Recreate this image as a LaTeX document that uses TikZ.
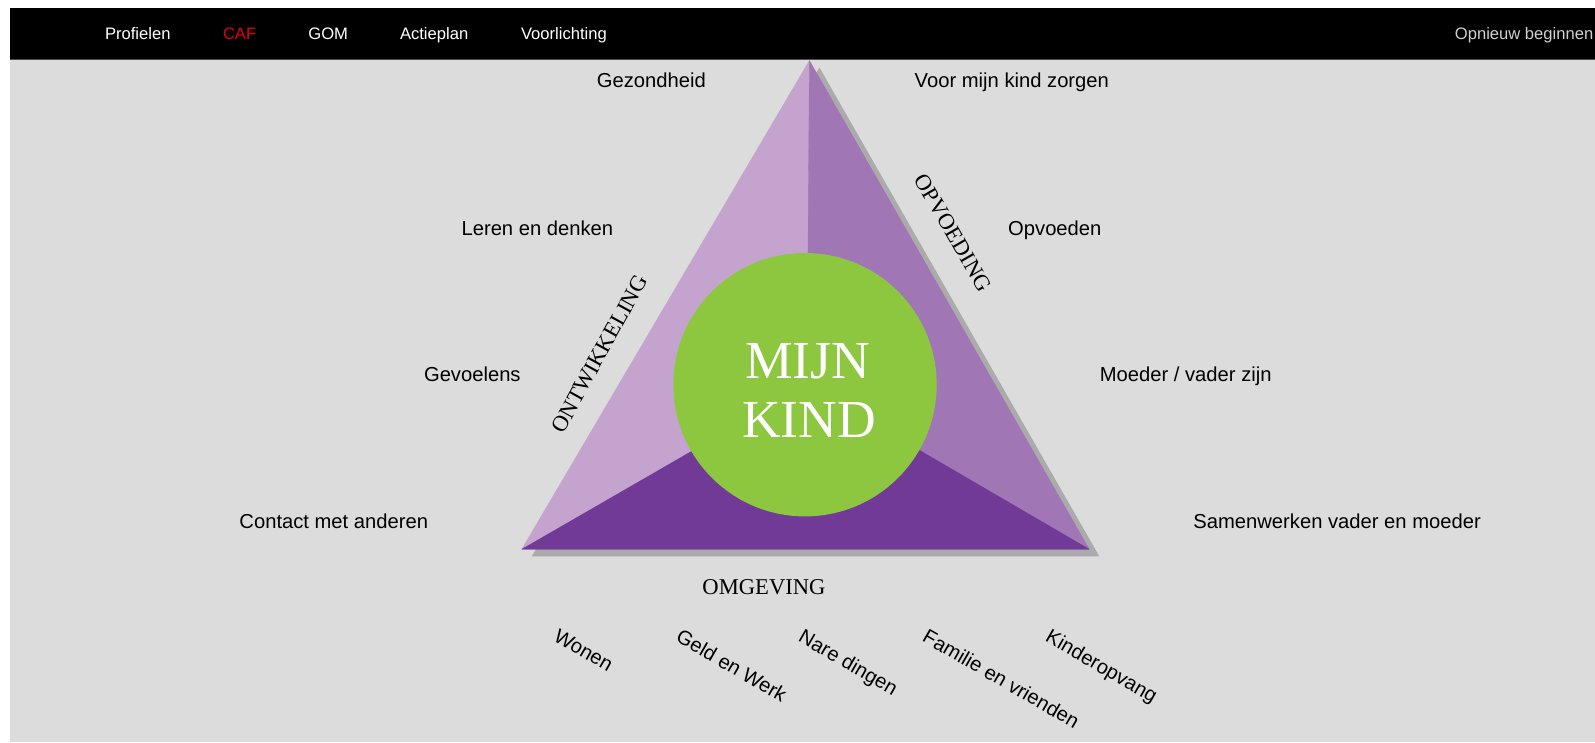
\documentclass[tikz,border=0pt]{standalone}
\usepackage{fontspec}
\setmainfont{Liberation Sans}
\newfontfamily\serifft{Liberation Serif}
\definecolor{bgc}{HTML}{DCDCDC}
\definecolor{shadowc}{HTML}{ABABAB}
\definecolor{faceL}{HTML}{C4A4CE}
\definecolor{faceR}{HTML}{A076B5}
\definecolor{faceB}{HTML}{703A96}
\definecolor{kidgreen}{HTML}{8DC63F}
\definecolor{navred}{HTML}{E80000}
\definecolor{navgray}{HTML}{D0D0D0}
\tikzset{
  lab/.style={font=\fontsize{20.2}{24}\selectfont, inner sep=0pt, text=black},
  navitem/.style={font=\fontsize{16.6}{20}\selectfont, inner sep=0pt, text=white, anchor=base west},
  captitle/.style={font=\serifft\fontsize{22.6}{26}\selectfont, inner sep=0pt, text=black},
  bottomlab/.style={lab, rotate=-30, anchor=north west},
  face/.style={fill=#1, draw=#1, line width=0.3pt, line join=round},
}
\begin{document}
\begin{tikzpicture}[x=1pt,y=-1pt]
\useasboundingbox (0,0) rectangle (1595,742);
\fill[white] (0,0) rectangle (1595,742);
\fill[bgc] (10,59) rectangle (1595,742);
\fill[black] (10,8) rectangle (1595,59);
\fill[black!70] (10,58.5) rectangle (1595,59.5);
% menu
\node[navitem] (m1) at (104.8,39.6) {Profielen};
\node[navitem, text=navred] (m2) at (222.8,39.6) {CAF};
\node[navitem] (m3) at (308.2,39.6) {GOM};
\node[navitem] (m4) at (399.8,39.6) {Actieplan};
\node[navitem] (m5) at (520.8,39.6) {Voorlichting};
\node[navitem, text=navgray, anchor=base east] (m6) at (1593.5,39.6) {Opnieuw beginnen};
% triangle
\coordinate (A) at (809.4,60.5);
\coordinate (L) at (521.7,549.3);
\coordinate (R) at (1089.3,549.3);
\coordinate (C) at (807,384.7);
\fill[shadowc] ([shift={(10,7)}]A) -- ([shift={(10,7)}]L) -- ([shift={(10,7)}]R) -- cycle;
\path[face=faceL] (A) -- (L) -- (C) -- cycle;
\path[face=faceR] (A) -- (R) -- (C) -- cycle;
\path[face=faceB] (L) -- (R) -- (C) -- cycle;
\node[circle, fill=kidgreen, minimum size=263.4pt, inner sep=0pt] (kid) at (805,384.7) {};
\node[font=\serifft\fontsize{53.5}{58}\selectfont, text=white, inner sep=0pt, anchor=base] (mijn) at (807.5,378.5) {MIJN};
\node[font=\serifft\fontsize{53.5}{58}\selectfont, text=white, inner sep=0pt, anchor=base] (kind) at (809,437.5) {KIND};
% side titles
\node[captitle, rotate=61] (ontw) at (599.5,354) {ONTWIKKELING};
\node[captitle, rotate=-60] (opvo) at (953,233) {OPVOEDING};
\node[captitle] (omge) at (764,587) {OMGEVING};
% left labels
\node[lab, anchor=base east] (l1) at (706,87.6) {Gezondheid};
\node[lab, anchor=base east] (l2) at (613.4,235.1) {Leren en denken};
\node[lab, anchor=base east] (l3) at (520.8,381.5) {Gevoelens};
\node[lab, anchor=base east] (l4) at (428.3,528) {Contact met anderen};
% right labels
\node[lab, anchor=base west] (r1) at (914.5,87.6) {Voor mijn kind zorgen};
\node[lab, anchor=base west] (r2) at (1008,235.1) {Opvoeden};
\node[lab, anchor=base west] (r3) at (1099.6,381.5) {Moeder / vader zijn};
\node[lab, anchor=base west] (r4) at (1193.2,528) {Samenwerken vader en moeder};
% bottom labels
\node[bottomlab] (b1) at (559.5,628) {Wonen};
\node[bottomlab] (b2) at (682,628) {Geld en Werk};
\node[bottomlab] (b3) at (804.5,628) {Nare dingen};
\node[bottomlab] (b4) at (928.6,628) {Familie en vrienden};
\node[bottomlab] (b5) at (1051.6,628) {Kinderopvang};
\end{tikzpicture}
\end{document}
